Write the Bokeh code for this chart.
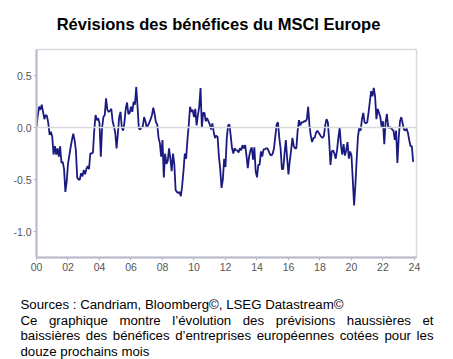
from bokeh.plotting import figure
from bokeh.layouts import column
from bokeh.models import Range1d, FixedTicker, Span
from bokeh.core.properties import value
from bokeh.embed import file_html
from bokeh.resources import INLINE

years = list(range(2000, 2024))
rev_2000 = [0.00, 0.12, 0.20, 0.17, 0.22, 0.15, 0.08, 0.12, 0.11, 0.04, -0.07, -0.04]
rev_2001 = [-0.09, -0.26, -0.18, -0.26, -0.20, -0.28, -0.18, -0.34, -0.33, -0.40, -0.62, -0.52]
rev_2002 = [-0.35, -0.27, -0.19, -0.12, -0.06, -0.12, -0.22, -0.48, -0.50, -0.50, -0.44, -0.47]
rev_2003 = [-0.41, -0.45, -0.40, -0.37, -0.40, -0.25, -0.25, -0.24, -0.03, 0.12, 0.07, 0.09]
rev_2004 = [0.04, -0.28, 0.00, 0.10, 0.12, 0.28, 0.17, 0.15, 0.16, 0.18, 0.06, 0.01]
rev_2005 = [-0.05, -0.20, -0.06, 0.10, 0.15, 0.00, -0.03, 0.05, 0.18, 0.24, 0.13, 0.14]
rev_2006 = [0.20, 0.15, 0.25, 0.22, 0.39, 0.20, -0.01, -0.02, 0.00, 0.01, 0.10, 0.06]
rev_2007 = [0.00, 0.02, 0.05, 0.08, 0.12, 0.19, 0.13, 0.05, 0.03, -0.10, -0.15, -0.28]
rev_2008 = [-0.12, -0.48, -0.25, -0.35, -0.32, -0.20, -0.30, -0.42, -0.25, -0.35, -0.60, -0.62]
rev_2009 = [-0.63, -0.62, -0.66, -0.56, -0.42, -0.25, -0.30, -0.12, 0.02, 0.20, 0.15, 0.17]
rev_2010 = [0.10, 0.18, 0.02, 0.12, 0.20, 0.38, 0.00, 0.14, 0.14, 0.06, 0.09, 0.06]
rev_2011 = [0.03, -0.02, 0.04, -0.04, -0.10, -0.08, -0.09, -0.28, -0.40, -0.58, -0.50, -0.30]
rev_2012 = [-0.38, -0.10, 0.02, 0.03, -0.08, -0.20, -0.25, -0.20, -0.22, -0.22, -0.24, -0.20]
rev_2013 = [-0.22, -0.17, -0.20, -0.17, -0.27, -0.39, -0.28, -0.22, -0.19, -0.31, -0.19, -0.42]
rev_2014 = [-0.48, -0.36, -0.36, -0.23, -0.28, -0.21, -0.21, -0.20, -0.20, -0.23, -0.26, -0.27]
rev_2015 = [-0.25, -0.20, -0.08, 0.03, 0.05, -0.10, -0.20, -0.40, -0.40, -0.25, -0.12, -0.30]
rev_2016 = [-0.45, -0.32, -0.22, -0.10, -0.18, -0.20, -0.20, -0.03, 0.07, 0.02, 0.05, 0.05]
rev_2017 = [0.06, 0.06, 0.08, 0.20, 0.02, -0.08, -0.14, -0.10, -0.10, -0.05, -0.03, -0.05]
rev_2018 = [-0.07, -0.09, -0.10, -0.08, 0.02, 0.08, 0.05, -0.12, -0.36, -0.23, -0.22, -0.25]
rev_2019 = [-0.30, -0.22, -0.10, 0.00, -0.17, -0.26, -0.16, -0.27, -0.22, -0.14, -0.30, -0.23]
rev_2020 = [-0.27, -0.50, -0.75, -0.55, -0.30, -0.08, 0.00, -0.03, 0.08, 0.14, 0.05, 0.04]
rev_2021 = [0.05, 0.14, 0.25, 0.35, 0.30, 0.38, 0.30, 0.08, 0.18, 0.14, 0.10, 0.00]
rev_2022 = [0.06, -0.16, 0.05, 0.13, 0.00, 0.00, 0.00, -0.02, -0.03, -0.12, -0.03, -0.34]
rev_2023 = [-0.10, 0.06, 0.10, 0.04, -0.02, -0.03, -0.01, -0.05, -0.12, -0.18, -0.18, -0.33]

yearly = [rev_2000, rev_2001, rev_2002, rev_2003, rev_2004, rev_2005, rev_2006,
          rev_2007, rev_2008, rev_2009, rev_2010, rev_2011, rev_2012, rev_2013,
          rev_2014, rev_2015, rev_2016, rev_2017, rev_2018, rev_2019, rev_2020,
          rev_2021, rev_2022, rev_2023]

x_ticks = [0, 2, 4, 6, 8, 10, 12, 14, 16, 18, 20, 22, 24]
x_tick_labels = ["00", "02", "04", "06", "08", "10", "12", "14", "16", "18", "20", "22", "24"]
y_ticks = [-1.0, -0.5, 0.0, 0.5]
y_tick_labels = ["-1.0", "-0.5", "0.0", "0.5"]

title_text = "Révisions des bénéfices du MSCI Europe"
source_text = "Sources : Candriam, Bloomberg©, LSEG Datastream©"
desc_line2 = "Ce graphique montre l’évolution des prévisions haussières et"
desc_line3 = "baissières des bénéfices d’entreprises européennes cotées pour les"
desc_line4 = "douze prochains mois"

xs, ys = [], []
for y, vals in zip(years, yearly):
    for m, v in enumerate(vals):
        xs.append((y - 2000) + m / 12.0)
        ys.append(v)

W = 453
FONT = value("Liberation Sans")
FOOT_PX = 13.25

# Arial / Liberation Sans advance widths (per 1000 em) for justified footer lines
_adv = {"a": 556, "b": 556, "c": 500, "d": 556, "e": 556, "é": 556, "è": 556, "f": 278,
        "g": 556, "h": 556, "i": 222, "l": 222, "m": 833, "n": 556, "o": 556, "p": 556,
        "q": 556, "r": 333, "s": 500, "t": 278, "u": 556, "v": 500, "x": 500, "C": 722,
        "’": 222, "z": 500}

def word_w(w):
    return sum(_adv.get(ch, 556) for ch in w) * FOOT_PX / 1000.0

def justify(line, left, right):
    words = line.split(" ")
    widths = [word_w(w) for w in words]
    gap = (right - left - sum(widths)) / (len(words) - 1)
    pos, x = [], left
    for w in widths:
        pos.append(x)
        x += w + gap
    return words, pos

# ---------- header ----------
HH = 45
hdr = figure(width=W, height=HH, output_backend="svg", toolbar_location=None,
             x_range=Range1d(0, W), y_range=Range1d(HH, 0),
             min_border=0, outline_line_color=None, frame_align=False)
hdr.axis.visible = False
hdr.grid.visible = False
hdr.text(x=[218], y=[23], text=[title_text], text_font=FONT,
         text_font_size=value("16.5px"), text_font_style="bold",
         text_align="center", text_baseline="alphabetic", text_color="black")

# ---------- chart ----------
CH = 237
p = figure(width=W, height=CH, output_backend="svg", toolbar_location=None,
           x_range=Range1d(0, 24.13), y_range=Range1d(-1.25, 0.75),
           min_border_left=36, min_border_right=37, min_border_top=4, min_border_bottom=25,
           frame_align=False)
p.outline_line_color = "#d9d9d9"
p.outline_line_width = 1.5
p.xgrid.visible = False
p.ygrid.visible = False
p.add_layout(Span(location=0, dimension="width", line_color="#d9d9d9", line_width=1.5))
p.line(xs, ys, line_color="#1a1a80", line_width=1.8)

for ax in (p.xaxis[0], p.yaxis[0]):
    ax.axis_line_color = "#b8b8cc"
    ax.axis_line_width = 2
    ax.major_tick_line_color = "#b8b8cc"
    ax.major_tick_out = 3
    ax.major_tick_in = 0
    ax.minor_tick_line_color = None
    ax.major_label_text_color = "#555555"
    ax.major_label_text_font = "Liberation Sans"
    ax.major_label_text_font_size = "10.5px"
    ax.major_label_standoff = 2

p.xaxis.ticker = FixedTicker(ticks=x_ticks)
p.xaxis.major_label_overrides = {t: l for t, l in zip(x_ticks, x_tick_labels)}
p.yaxis.ticker = FixedTicker(ticks=y_ticks)
p.yaxis.major_label_overrides = {t: l for t, l in zip(y_ticks, y_tick_labels)}

# ---------- footer ----------
FH = 359 - HH - CH
ftr = figure(width=W, height=FH, output_backend="svg", toolbar_location=None,
             x_range=Range1d(0, W), y_range=Range1d(FH, 0),
             min_border=0, outline_line_color=None, frame_align=False)
ftr.axis.visible = False
ftr.grid.visible = False
y0 = 304 - HH - CH
common = dict(text_font=FONT, text_font_size=value(f"{FOOT_PX}px"),
              text_baseline="alphabetic", text_color="black", text_align="left")
ftr.text(x=[20], y=[y0], text=[source_text], **common)
w2, x2 = justify(desc_line2, 20, 433)
ftr.text(x=x2, y=[y0 + 16] * len(w2), text=w2, **common)
w3, x3 = justify(desc_line3, 20, 433)
ftr.text(x=x3, y=[y0 + 31] * len(w3), text=w3, **common)
ftr.text(x=[20], y=[y0 + 47], text=[desc_line4], **common)

layout = column(hdr, p, ftr, spacing=0)
html = file_html(layout, INLINE)
open("out.html", "w").write(html)
